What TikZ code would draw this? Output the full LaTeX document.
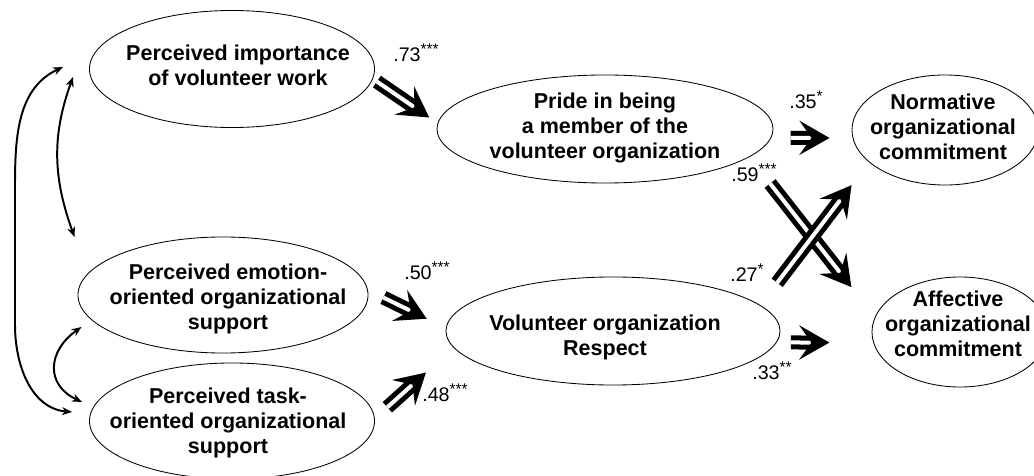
\documentclass[tikz,border=0pt]{standalone}
\usepackage{fontspec}
\setmainfont{Liberation Sans}
\usetikzlibrary{arrows.meta}
\usetikzlibrary{shapes.geometric}

\newcommand{\stars}[1]{\textsuperscript{\fontsize{11}{11}\selectfont #1}}

\begin{document}
\begin{tikzpicture}[x=0.025cm, y=0.025cm,
  ell/.style={draw, ellipse, line width=0.6pt, inner sep=0pt},
  lbl/.style={align=center, inner sep=0pt, font=\bfseries\fontsize{15.3}{17.8}\selectfont},
  coef/.style={anchor=base west, inner sep=0pt, font=\fontsize{14}{16}\selectfont},
  effect/.style={double, double distance=0.1cm, line width=0.125cm,
    -{Stealth[length=0.75cm, width=0.85cm, inset=0.3cm]}},
  cov/.style={line width=1.4pt,
    {Stealth[length=0.25cm, width=0.2cm]}-{Stealth[length=0.25cm, width=0.2cm]}}]

\useasboundingbox (0,0) rectangle (1034,475);

% latent variables
\node[ell, minimum width=7.125cm, minimum height=2.925cm] (imp) at (232,406) {};
\node[ell, minimum width=7.25cm, minimum height=2.9cm] (emo) at (223,180) {};
\node[ell, minimum width=7.125cm, minimum height=2.9cm] (task) at (232,54) {};
\node[ell, minimum width=8.4cm, minimum height=2.7cm] (pride) at (605,346) {};
\node[ell, minimum width=8.35cm, minimum height=2.7cm] (resp) at (613,144) {};
\node[ell, minimum width=4.65cm, minimum height=2.75cm] (norm) at (945,345) {};
\node[ell, minimum width=4.4cm, minimum height=2.75cm] (aff) at (960,143) {};

\node[lbl] (imp-txt) at (238,410) {Perceived importance\\of volunteer work};
\node[lbl] (emo-txt) at (228,176) {Perceived emotion-\\oriented organizational\\support};
\node[lbl] (task-txt) at (228,52) {Perceived task-\\oriented organizational\\support};
\node[lbl] (pride-txt) at (605,347) {Pride in being\\a member of the\\volunteer organization};
\node[lbl] (resp-txt) at (605,138) {Volunteer organization\\Respect};
\node[lbl] (norm-txt) at (943,348) {Normative\\organizational\\commitment};
\node[lbl] (aff-txt) at (958,151) {Affective\\organizational\\commitment};

% correlations between the predictors
\draw[cov] ([shift={(-26,2)}]imp.west) to[out=205,in=90] (15,290) -- (15,150)
  to[out=-90,in=175] ([shift={(-17,9)}]task.west);
\draw[cov] ([shift={(-16,-8)}]imp.west) to[out=250,in=110] ([shift={(-3,58)}]emo.west);
\draw[cov] ([shift={(4,-32)}]emo.west) to[out=215,in=155,looseness=1.4] ([shift={(-7,19)}]task.west);

% path coefficients
\draw[effect, shorten <=0.12cm, shorten >=0.25cm] (imp.-4) -- (pride.178);
\draw[effect, shorten <=0.485cm, shorten >=0.575cm] (pride.-3) -- (norm.185);
\draw[effect, shorten <=0.84cm, shorten >=0.95cm] (pride.-11) -- (aff.170);
\draw[effect, shorten <=0.7cm, shorten >=0.72cm] (resp.10) -- (norm.203);
\draw[effect, shorten <=0.43cm, shorten >=0.53cm] (emo.2) -- (resp.179.5);
\draw[effect, shorten <=0.42cm, shorten >=0.93cm] (task.1.3) -- (resp.186.4);
\draw[effect, shorten <=0.355cm, shorten >=1.095cm] (resp.-4) -- (aff.187);

\node[coef] (c73) at (393,413.5) {.73\stars{***}};
\node[coef] (c35) at (789,366.5) {.35\stars{*}};
\node[coef] (c59) at (731,293.5) {.59\stars{***}};
\node[coef] (c27) at (730,193.5) {.27\stars{*}};
\node[coef] (c50) at (404,195.5) {.50\stars{***}};
\node[coef] (c48) at (422,73.5) {.48\stars{***}};
\node[coef] (c33) at (752,95.5) {.33\stars{**}};
\end{tikzpicture}
\end{document}
